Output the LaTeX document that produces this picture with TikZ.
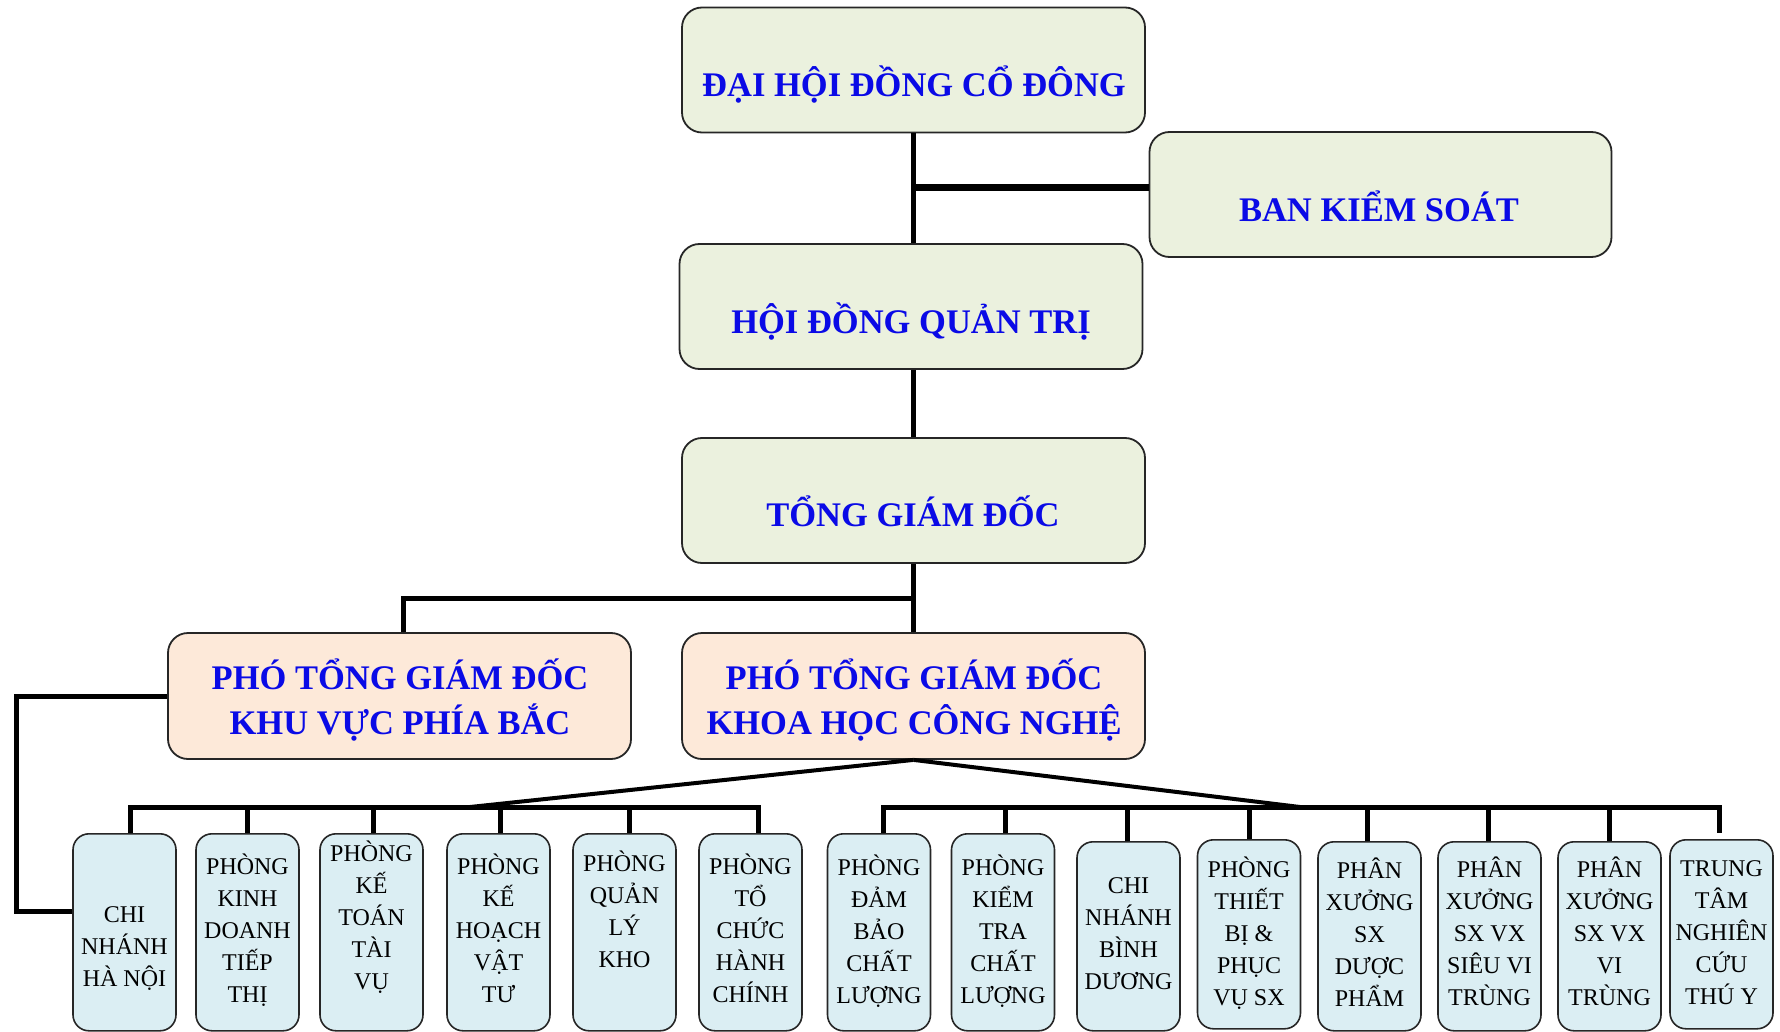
\documentclass[tikz,border=0pt]{standalone}
\usepackage{fontspec}
\setmainfont{Liberation Serif}
\usetikzlibrary{calc}
\definecolor{gfill}{HTML}{EBF1DE}
\definecolor{pfill}{HTML}{FDE9D9}
\definecolor{bfill}{HTML}{DBEEF3}
\definecolor{tblue}{HTML}{0A0AE6}
\newcommand\stk[1]{\begin{tabular}{@{}c@{}}#1\end{tabular}}
\begin{document}
\begin{tikzpicture}[x=1pt,y=-1pt,
  bigbox/.style={draw=black!85, line width=1.8pt, rounded corners=20pt, fill=gfill, minimum width=463pt, minimum height=125pt, inner sep=0pt},
  vpbox/.style={bigbox, fill=pfill},
  sbox/.style={draw=black!85, line width=1.6pt, rounded corners=16pt, fill=bfill, minimum width=103pt, inner sep=0pt, anchor=north},
  bigtxt/.style={font=\fontsize{34.5}{45}\selectfont\bfseries, text=tblue, inner sep=0pt},
  smalltxt/.style={font=\fontsize{24}{32}\selectfont, inner sep=0pt},
  link/.style={line width=5pt, line join=miter},
  diag/.style={line width=4pt},
]
\useasboundingbox (0,0) rectangle (1780,1032);

% top level boxes
\node[bigbox] (dh) at (913.5,70) {};
\node[bigbox, minimum width=462pt] (bks) at (1380.5,194.5) {};
\node[bigbox] (hd) at (911,306.5) {};
\node[bigbox] (tgd) at (913.5,500.5) {};
\node[vpbox, minimum height=126pt] (pb) at (399.5,696) {};
\node[vpbox, minimum height=126pt] (pk) at (913.5,696) {};

\node[bigtxt, anchor=base] (tdh) at (914,97) {ĐẠI HỘI ĐỒNG CỔ ĐÔNG};
\node[bigtxt, anchor=base] (tbks) at (1379,222) {BAN KIỂM SOÁT};
\node[bigtxt, anchor=base] (thd) at (911,334) {HỘI ĐỒNG QUẢN TRỊ};
\node[bigtxt, anchor=base] (ttgd) at (913,526) {TỔNG GIÁM ĐỐC};
\node[bigtxt] (tpb) at (400,702.5) {\stk{PHÓ TỔNG GIÁM ĐỐC\\KHU VỰC PHÍA BẮC}};
\node[bigtxt] (tpk) at (914,702.5) {\stk{PHÓ TỔNG GIÁM ĐỐC\\KHOA HỌC CÔNG NGHỆ}};

% small boxes
\node[sbox, minimum height=197pt] (b1) at (124.5,833) {};
\node[sbox, minimum height=197pt] (b2) at (247.5,833) {};
\node[sbox, minimum height=197pt] (b3) at (371.5,833) {};
\node[sbox, minimum height=197pt] (b4) at (498.5,833) {};
\node[sbox, minimum height=197pt] (b5) at (624.5,833) {};
\node[sbox, minimum height=197pt] (b6) at (750.5,833) {};
\node[sbox, minimum height=197pt] (b7) at (879,833) {};
\node[sbox, minimum height=197pt] (b8) at (1003,833) {};
\node[sbox, minimum height=189pt] (b9) at (1128.5,841) {};
\node[sbox, minimum height=189pt] (b10) at (1249,839) {};
\node[sbox, minimum height=189pt] (b11) at (1369.5,841) {};
\node[sbox, minimum height=189pt] (b12) at (1489.5,841) {};
\node[sbox, minimum height=189pt] (b13) at (1609.5,841) {};
\node[sbox, minimum height=189pt] (b14) at (1721.5,839) {};

\node[smalltxt] (t1) at (124.5,948.5) {\stk{CHI\\NHÁNH\\HÀ NỘI}};
\node[smalltxt] (t2) at (247.5,932.5) {\stk{PHÒNG\\KINH\\DOANH\\TIẾP\\THỊ}};
\node[smalltxt] (t3) at (371.5,919) {\stk{PHÒNG\\KẾ\\TOÁN\\TÀI\\VỤ}};
\node[smalltxt] (t4) at (498.5,932.5) {\stk{PHÒNG\\KẾ\\HOẠCH\\VẬT\\TƯ}};
\node[smalltxt] (t5) at (624.5,913) {\stk{PHÒNG\\QUẢN\\LÝ\\KHO}};
\node[smalltxt] (t6) at (750.5,932.5) {\stk{PHÒNG\\TỔ\\CHỨC\\HÀNH\\CHÍNH}};
\node[smalltxt] (t7) at (879,933.5) {\stk{PHÒNG\\ĐẢM\\BẢO\\CHẤT\\LƯỢNG}};
\node[smalltxt] (t8) at (1003,933.5) {\stk{PHÒNG\\KIỂM\\TRA\\CHẤT\\LƯỢNG}};
\node[smalltxt] (t9) at (1128.5,935.5) {\stk{CHI\\NHÁNH\\BÌNH\\DƯƠNG}};
\node[smalltxt] (t10) at (1249,935.5) {\stk{PHÒNG\\THIẾT\\BỊ \&\\PHỤC\\VỤ SX}};
\node[smalltxt] (t11) at (1369.5,936.5) {\stk{PHÂN\\XƯỞNG\\SX\\DƯỢC\\PHẨM}};
\node[smalltxt] (t12) at (1489.5,935.5) {\stk{PHÂN\\XƯỞNG\\SX VX\\SIÊU VI\\TRÙNG}};
\node[smalltxt] (t13) at (1609.5,935.5) {\stk{PHÂN\\XƯỞNG\\SX VX\\VI\\TRÙNG}};
\node[smalltxt] (t14) at (1721.5,934.5) {\stk{TRUNG\\TÂM\\NGHIÊN\\CỨU\\THÚ Y}};

% connectors top
\draw[link] (dh.south) -- (dh.south |- hd.north);
\draw[line width=6.5pt] ([yshift=7pt]bks.west) -- ([yshift=7pt]bks.west -| dh.south);
\draw[link] (hd.south -| dh.south) -- (tgd.north);
\draw[link] (tgd.south) -- (tgd.south |- pk.north);
\coordinate (split) at ($(tgd.south)!0.5!(pk.north)$);
\draw[link] ([xshift=4pt]pb.north) -- ([xshift=4pt]pb.north |- split) -- (split);

% left feeder to Chi nhanh Ha Noi
\coordinate (lc) at (16,911);
\draw[link] (pb.west) -| (lc) -- (lc -| b1.west);

% buses
\coordinate (busL) at (0,807);
\coordinate (diagL) at (470,807);
\coordinate (diagR) at (1300,807);
\draw[diag] (pk.south) -- (diagL);
\draw[diag] (pk.south) -- (diagR);
\draw[link] ([xshift=6pt]b1.north) -- ([xshift=6pt]b1.north |- busL) -- ([xshift=8pt]b6.north |- busL) -- ([xshift=8pt]b6.north);
\foreach \b/\s in {b2/0,b3/2,b4/2,b5/5}{
  \draw[link] ([xshift=\s pt]\b.north) -- ([xshift=\s pt]\b.north |- busL);
}
\draw[link] ([xshift=4pt]b7.north) -- ([xshift=4pt]b7.north |- busL) -- ([xshift=-2pt]b14.north |- busL) -- ([xshift=-2pt,yshift=6pt]b14.north);
\foreach \b/\s in {b8/2,b9/-1,b10/0,b11/-2,b12/-1,b13/0}{
  \draw[link] ([xshift=\s pt]\b.north) -- ([xshift=\s pt]\b.north |- busL);
}
\end{tikzpicture}
\end{document}
